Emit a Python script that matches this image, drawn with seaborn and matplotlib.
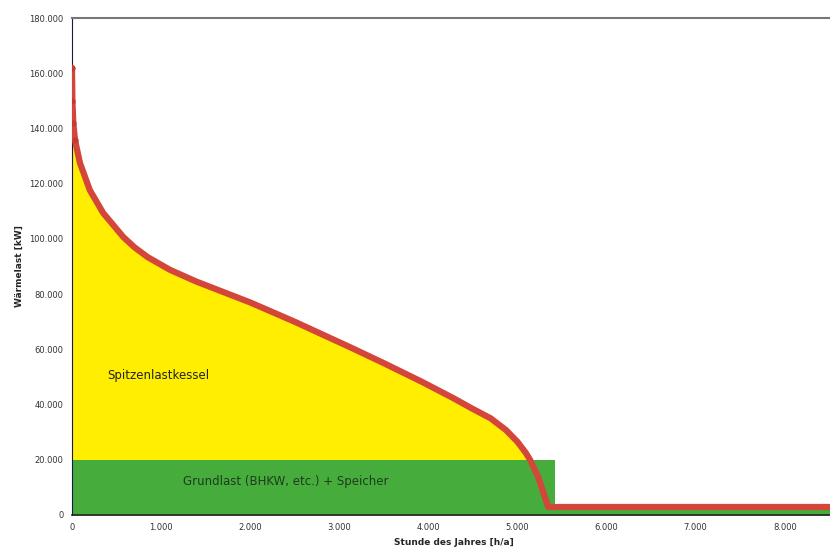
import matplotlib.pyplot as plt
import matplotlib.ticker as mticker
import seaborn as sns
import pandas as pd
import numpy as np

# Jahresdauerlinie
stunden = [0, 5, 15, 34, 90, 200, 350, 576, 700, 850, 1100, 1400, 2000, 2500,
           3140, 3500, 3930, 4270, 4500, 4700, 4870, 5000, 5096, 5141, 5232,
           5345, 8760]
waermelast = [162000, 150000, 142000, 135800, 127500, 117700, 109400, 100700,
              97000, 93400, 88800, 84500, 77000, 70000, 60500, 55000, 48200,
              42500, 38400, 35000, 30800, 26500, 22400, 20000, 13800, 2900,
              2900]
grundlast = 20000
grundlast_ende = 5424

y_ticks = list(range(0, 180001, 20000))
x_ticks = list(range(0, 8001, 1000))

df = pd.DataFrame({'h': stunden, 'kw': waermelast})

sns.set_style('white')
plt.rcParams['font.family'] = ['DejaVu Sans']

fig = plt.figure(figsize=(8.3, 5.54), dpi=100)
ax = fig.add_axes([0.0867, 0.0704, 0.92, 0.897])

h = np.array(stunden, dtype=float)
kw = np.array(waermelast, dtype=float)
gruen = '#46ad3c'
ax.fill_between(h, 0, np.minimum(kw, grundlast), color=gruen, zorder=1, lw=0)
ax.fill_between(h, grundlast, kw, where=kw > grundlast, interpolate=True,
                color='#ffee00', zorder=1, lw=0)
ax.fill_between([0, grundlast_ende], 0, grundlast, color=gruen, zorder=1,
                lw=0)

sns.lineplot(data=df, x='h', y='kw', ax=ax, color='#d5463a', lw=4.5,
             zorder=3)
spike = df[df['h'] <= 34]
ax.plot(spike['h'], spike['kw'], 'o', color='#c43a30', ms=3.5, zorder=4)

ax.text(400, 50500, 'Spitzenlastkessel', fontsize=8.5, va='center',
        color='#222222')
ax.text(2400, 12000, 'Grundlast (BHKW, etc.) + Speicher', fontsize=8.5,
        ha='center', va='center', color='#1f3a1f')

ax.set_xlim(0, 8570)
ax.set_ylim(0, 180000)
ax.set_xticks(x_ticks)
ax.set_yticks(y_ticks)
fmt = mticker.FuncFormatter(lambda v, p: f'{int(v):,}'.replace(',', '.'))
ax.xaxis.set_major_formatter(fmt)
ax.yaxis.set_major_formatter(fmt)
ax.tick_params(labelsize=6, colors='#333333', length=0, pad=6)

ax.spines['right'].set_visible(False)
ax.spines['top'].set_color('#777777')
ax.spines['top'].set_linewidth(1.5)
ax.spines['left'].set_color('#1a1a4a')
ax.spines['bottom'].set_color('#222222')
ax.spines['bottom'].set_linewidth(1.2)

ax.set_xlabel('Stunde des Jahres [h/a]', fontsize=6.5, fontweight='bold',
              labelpad=4)
ax.set_ylabel('Wärmelast [kW]', fontsize=6.5, fontweight='bold', labelpad=4)

plt.savefig('out.png', dpi=100)
